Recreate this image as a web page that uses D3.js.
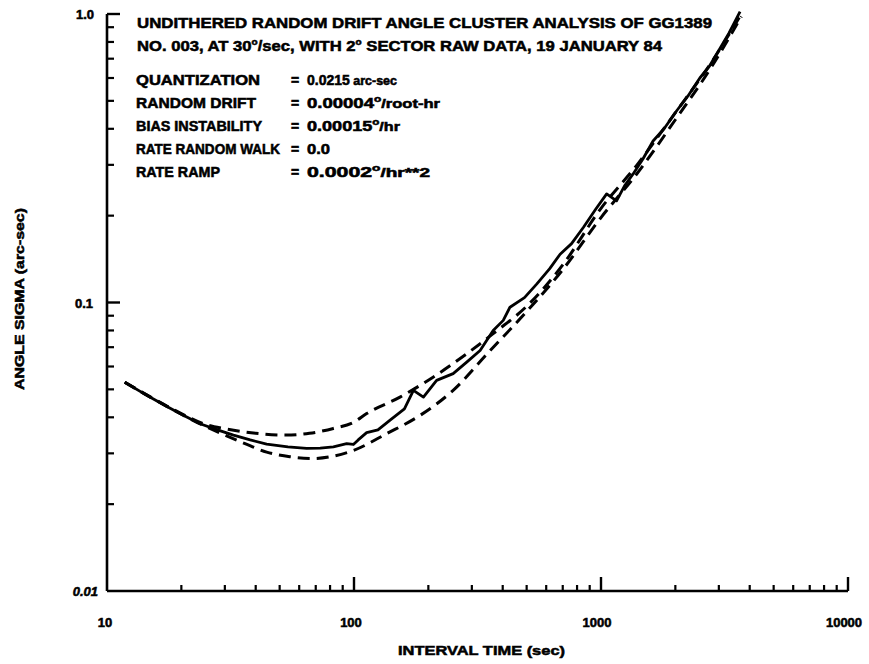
<!DOCTYPE html>
<html>
<head>
<meta charset="utf-8">
<script src="https://cdn.jsdelivr.net/npm/d3@7"></script>
<style>
  html, body { margin: 0; padding: 0; background: #fff; }
  svg text { font-family: "Liberation Sans", Arial, sans-serif; font-weight: bold; fill: #000; stroke: #000; stroke-width: 0.55px; }
</style>
</head>
<body>
<svg id="chart" width="869" height="664"></svg>
<script>
// ---- data ----
const measuredTime  = [11.8, 14, 17.4, 20, 23.8, 28, 32.5, 38, 44.3, 54, 64.3, 73, 82.5, 93.4, 99.4, 104, 112.5, 125, 140, 160, 174, 191, 216, 252, 286, 324, 366, 402, 428, 490, 550, 620, 683, 760, 848, 950, 1054, 1156, 1250, 1349, 1480, 1625, 1800, 2025, 2250, 2513, 2750, 2937, 3300, 3656];
const measuredSigma = [0.0529, 0.0485, 0.0437, 0.041, 0.038, 0.0362, 0.0347, 0.0334, 0.0323, 0.0316, 0.0312, 0.0313, 0.0316, 0.0324, 0.0322, 0.0334, 0.0354, 0.0362, 0.0391, 0.0428, 0.0496, 0.047, 0.0537, 0.0567, 0.0621, 0.0682, 0.080, 0.0867, 0.0963, 0.104, 0.116, 0.131, 0.147, 0.160, 0.182, 0.210, 0.238, 0.225, 0.255, 0.279, 0.315, 0.363, 0.400, 0.462, 0.52, 0.60, 0.66, 0.725, 0.86, 1.02];

const upperTime  = [11.8, 15, 20, 25, 30, 40, 53, 66, 82.5, 100, 112.5, 153.5, 209, 286, 366, 500, 700, 1000, 1400, 2000, 2800, 3700];
const upperSigma = [0.0529, 0.047, 0.0412, 0.0378, 0.0365, 0.0352, 0.0347, 0.0352, 0.0366, 0.0385, 0.0412, 0.047, 0.0551, 0.0664, 0.078, 0.097, 0.135, 0.212, 0.30, 0.455, 0.68, 1.0];

const lowerTime  = [11.8, 15, 20, 25, 30.5, 36, 44.3, 55, 68.4, 82, 99.4, 135.6, 185, 252, 355, 500, 700, 1000, 1400, 2000, 2800, 3700];
const lowerSigma = [0.0529, 0.047, 0.041, 0.0372, 0.0345, 0.0325, 0.0303, 0.0292, 0.0288, 0.0293, 0.0307, 0.0351, 0.0406, 0.0496, 0.068, 0.093, 0.13, 0.197, 0.28, 0.43, 0.655, 0.98];

const xTickValues = [10, 100, 1000, 10000];
const xTickLabels = ["10", "100", "1000", "10000"];
const yTickValues = [0.01, 0.1, 1.0];
const yTickLabels = ["0.01", "0.1", "1.0"];

const titleLines = ["UNDITHERED RANDOM DRIFT ANGLE CLUSTER ANALYSIS OF  GG1389",
                    "NO. 003, AT 30°/sec, WITH 2° SECTOR RAW DATA, 19 JANUARY 84"];
const paramNames  = ["QUANTIZATION", "RANDOM DRIFT", "BIAS INSTABILITY", "RATE RANDOM WALK", "RATE RAMP"];
const paramNumbers = ["0.0215", "0.00004°", "0.00015°", "0.0", "0.0002°"];
const paramUnits   = [" arc-sec", "/root-hr", "/hr", "", "/hr**2"];

// ---- layout ----
const svg = d3.select("#chart");
const x = d3.scaleLog().domain([10, 10000]).range([107, 848]);
const y = d3.scaleLog().domain([0.01, 1.0]).range([591, 14]);

const g = svg.append("g");
g.append("line").attr("x1", x(10)).attr("x2", x(10000)).attr("y1", y(0.01)).attr("y2", y(0.01))
  .attr("stroke", "#000").attr("stroke-width", 2.6);
g.append("line").attr("x1", x(10)).attr("x2", x(10)).attr("y1", y(0.01)).attr("y2", y(1.0))
  .attr("stroke", "#000").attr("stroke-width", 2.6);

// x ticks (inward, upward)
const xTicksAll = [];
for (let d = 10; d <= 1000; d *= 10) for (let m = 2; m <= 9; m++) xTicksAll.push(d * m);
g.selectAll(".xminor").data(xTicksAll).enter().append("line")
  .attr("x1", d => x(d)).attr("x2", d => x(d)).attr("y1", y(0.01)).attr("y2", y(0.01) - 6)
  .attr("stroke", "#000").attr("stroke-width", 2.2);
g.selectAll(".xmajor").data(xTickValues.slice(1)).enter().append("line")
  .attr("x1", d => x(d)).attr("x2", d => x(d)).attr("y1", y(0.01)).attr("y2", y(0.01) - 14)
  .attr("stroke", "#000").attr("stroke-width", 2.4);

// y ticks (inward, rightward)
const yTicksAll = [];
for (let d = 0.01; d < 0.5; d *= 10) for (let m = 2; m <= 9; m++) yTicksAll.push(d * m);
g.selectAll(".yminor").data(yTicksAll).enter().append("line")
  .attr("x1", x(10)).attr("x2", x(10) + 7).attr("y1", d => y(d)).attr("y2", d => y(d))
  .attr("stroke", "#000").attr("stroke-width", 2.2);
g.selectAll(".ymajor").data(yTickValues.slice(1)).enter().append("line")
  .attr("x1", x(10)).attr("x2", x(10) + 13).attr("y1", d => y(d)).attr("y2", d => y(d))
  .attr("stroke", "#000").attr("stroke-width", 2.4);

// tick labels
g.selectAll(".xl").data(xTickValues).enter().append("text")
  .attr("x", (d, i) => x(d) - [2, 3, 4, 4][i]).attr("y", 627)
  .attr("text-anchor", "middle").attr("font-size", 13)
  .text((d, i) => xTickLabels[i]);
g.selectAll(".yl").data(yTickValues).enter().append("text")
  .attr("x", (d, i) => [98, 93, 94][i]).attr("y", d => y(d) + 5)
  .attr("text-anchor", "end").attr("font-size", 13)
  .attr("font-style", (d, i) => i === 0 ? "italic" : "normal")
  .text((d, i) => yTickLabels[i]);

// axis titles
svg.append("text").attr("x", 398).attr("y", 655).attr("font-size", 13.5)
  .attr("textLength", 167).attr("lengthAdjust", "spacingAndGlyphs")
  .text("INTERVAL TIME (sec)");
svg.append("text").attr("transform", "translate(24,390) rotate(-90)").attr("font-size", 13.5)
  .attr("textLength", 182).attr("lengthAdjust", "spacingAndGlyphs")
  .text("ANGLE SIGMA (arc-sec)");

// title & parameter block
function degText(sel, str, supSize) {
  const parts = str.split("°");
  parts.forEach((p, i) => {
    if (i > 0) sel.append("tspan").attr("font-size", supSize).attr("dy", -6).text("o");
    if (p.length) sel.append("tspan").attr("dy", i > 0 ? 6 : 0).text(p);
  });
}
const titleWidths = [575, 525];
titleLines.forEach((t, i) => {
  const tx = svg.append("text").attr("x", 137).attr("y", 28 + i * 23).attr("font-size", 15)
    .attr("textLength", titleWidths[i]).attr("lengthAdjust", "spacingAndGlyphs");
  degText(tx, t, 9);
});
const nameWidths = [124, 120, 126, 144, 84];
const valueWidths = [90, 133, 93, 23, 123];
paramNames.forEach((n, i) => {
  const yy = 85 + i * 23;
  svg.append("text").attr("x", 136).attr("y", yy).attr("font-size", 14.5)
    .attr("textLength", nameWidths[i]).attr("lengthAdjust", "spacingAndGlyphs").text(n);
  svg.append("text").attr("x", 291).attr("y", yy).attr("font-size", 14).text("=");
  const tv = svg.append("text").attr("x", 307).attr("y", yy).attr("font-size", 14)
    .attr("textLength", valueWidths[i]).attr("lengthAdjust", "spacingAndGlyphs");
  degText(tv, paramNumbers[i], 9);
  if (paramUnits[i]) tv.append("tspan").attr("font-size", 12.5).attr("dy", paramNumbers[i].endsWith("°") ? 6 : 0).text(paramUnits[i]);
});

// curves
const lineGen = d3.line().x(d => x(d[0])).y(d => y(d[1]));
const smoothGen = d3.line().x(d => x(d[0])).y(d => y(d[1])).curve(d3.curveMonotoneX);

svg.append("path").datum(upperTime.map((t, i) => [t, upperSigma[i]]))
  .attr("d", smoothGen).attr("fill", "none").attr("stroke", "#000")
  .attr("stroke-width", 3).attr("stroke-dasharray", "12,7");
svg.append("path").datum(lowerTime.map((t, i) => [t, lowerSigma[i]]))
  .attr("d", smoothGen).attr("fill", "none").attr("stroke", "#000")
  .attr("stroke-width", 3).attr("stroke-dasharray", "12,7");
svg.append("path").datum(measuredTime.map((t, i) => [t, measuredSigma[i]]))
  .attr("d", lineGen).attr("fill", "none").attr("stroke", "#000")
  .attr("stroke-width", 2.8).attr("stroke-linejoin", "round");
</script>
</body>
</html>
